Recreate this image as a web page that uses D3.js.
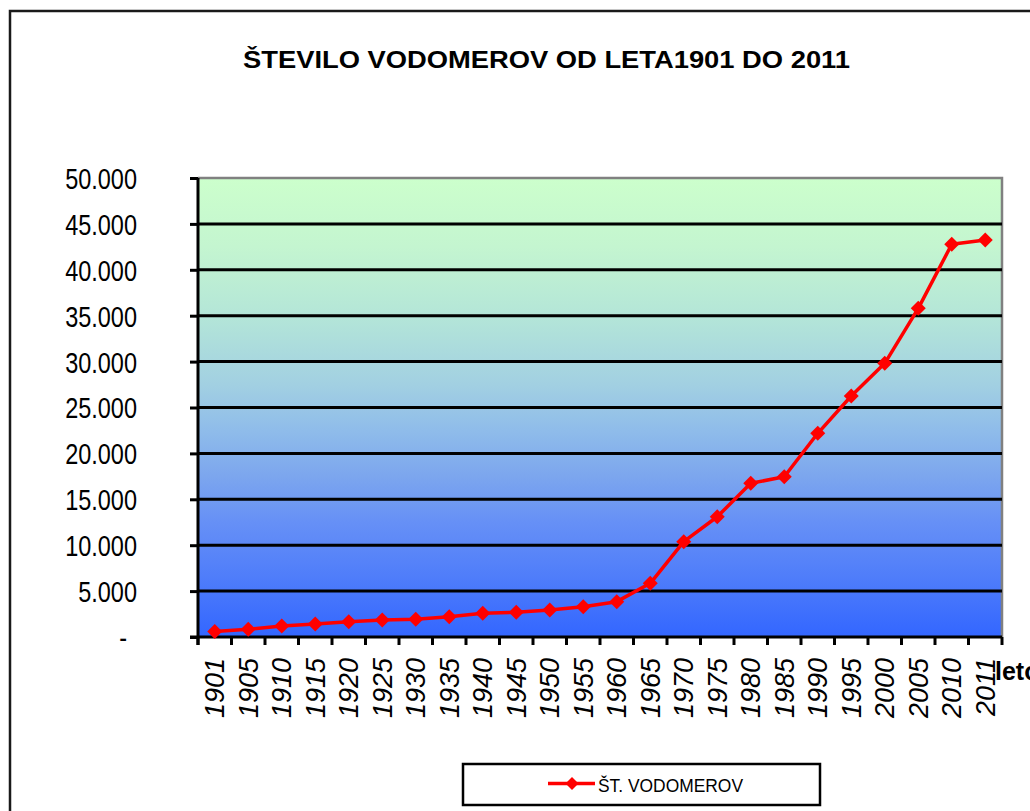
<!DOCTYPE html>
<html>
<head>
<meta charset="utf-8">
<script src="https://cdn.jsdelivr.net/npm/d3@7"></script>
<style>
  html, body { margin: 0; padding: 0; background: #fff; }
  svg { display: block; font-family: "Liberation Sans", Arial, sans-serif; }
</style>
</head>
<body>
<svg id="chart" width="1030" height="811"></svg>
<script>
// ---- data ----
const titleText = "ŠTEVILO VODOMEROV OD LETA1901 DO 2011";
const seriesName = "ŠT. VODOMEROV";
const xAxisTitle = "leto";
const years = ["1901","1905","1910","1915","1920","1925","1930","1935","1940","1945","1950","1955","1960",
               "1965","1970","1975","1980","1985","1990","1995","2000","2005","2010","2011"];
const meters = [600, 840, 1200, 1420, 1670, 1850, 1930, 2210, 2580, 2690, 2940, 3300, 3850,
                5850, 10380, 13100, 16740, 17460, 22190, 26250, 29810, 35800, 42780, 43250];
const yTicks = [0, 5000, 10000, 15000, 20000, 25000, 30000, 35000, 40000, 45000, 50000];

// ---- layout ----
const svg = d3.select("#chart");
const plot = { left: 198, right: 1002, top: 178, bottom: 637 };

const x = d3.scaleBand().domain(years).range([plot.left, plot.right]).padding(0);
const y = d3.scaleLinear().domain([0, 50000]).range([plot.bottom, plot.top]);

const loc = d3.formatLocale({ decimal: ",", thousands: ".", grouping: [3], currency: ["", ""] });
const fmt = loc.format(",.0f");

// outer chart border
svg.append("rect").attr("x", 10).attr("y", 11).attr("width", 1100).attr("height", 900)
  .attr("fill", "#fff").attr("stroke", "#1a1a1a").attr("stroke-width", 2.5);

// gradient
const defs = svg.append("defs");
const grad = defs.append("linearGradient").attr("id", "bg")
  .attr("x1", 0).attr("y1", 0).attr("x2", 0).attr("y2", 1);
[[0, "#CCFFCC"], [0.15, "#C4F5D0"], [0.3, "#B4E6D8"], [0.45, "#A2D0E2"], [0.55, "#8FBCEA"],
 [0.65, "#7CA6EE"], [0.75, "#6690F6"], [0.87, "#4F7DFA"], [1, "#3366FF"]]
  .forEach(([o, c]) => grad.append("stop").attr("offset", o).attr("stop-color", c));

svg.append("rect").attr("x", plot.left).attr("y", plot.top)
  .attr("width", plot.right - plot.left).attr("height", plot.bottom - plot.top)
  .attr("fill", "url(#bg)");

// plot border top/right (gray)
svg.append("path")
  .attr("d", `M${plot.left},${plot.top}H${plot.right}V${plot.bottom}`)
  .attr("fill", "none").attr("stroke", "#808080").attr("stroke-width", 2.5);

// gridlines
svg.append("g").selectAll("line").data(yTicks.filter(v => v > 0 && v < 50000)).join("line")
  .attr("x1", plot.left).attr("x2", plot.right)
  .attr("y1", d => y(d)).attr("y2", d => y(d))
  .attr("stroke", "#000").attr("stroke-width", 3);

// y axis
const yAxis = svg.append("g").attr("transform", `translate(${plot.left},0)`)
  .call(d3.axisLeft(y).tickValues(yTicks).tickSize(8).tickSizeOuter(0).tickFormat(d => d === 0 ? "-" : fmt(d)));
yAxis.select(".domain").remove();
yAxis.selectAll(".tick line").attr("stroke", "#000").attr("stroke-width", 3);
yAxis.selectAll(".tick text")
  .attr("font-family", "'Liberation Sans', Arial, sans-serif")
  .attr("font-size", 29).attr("fill", "#000")
  .attr("x", d => d === 0 ? -71 : -61).attr("dy", "0.36em")
  .each(function () { const w = this.getComputedTextLength(); d3.select(this).attr("textLength", w * 0.81).attr("lengthAdjust", "spacingAndGlyphs"); });

// x axis: line + ticks at band boundaries
svg.append("line").attr("x1", plot.left - 8).attr("x2", plot.right)
  .attr("y1", plot.bottom).attr("y2", plot.bottom).attr("stroke", "#000").attr("stroke-width", 3);
svg.append("line").attr("x1", plot.left).attr("x2", plot.left)
  .attr("y1", plot.top).attr("y2", plot.bottom + 8).attr("stroke", "#000").attr("stroke-width", 3);
const bounds = years.map(d => x(d)).concat([x(years[years.length - 1]) + x.bandwidth()]);
svg.append("g").selectAll("line").data(bounds).join("line")
  .attr("x1", d => d).attr("x2", d => d)
  .attr("y1", plot.bottom).attr("y2", plot.bottom + 8)
  .attr("stroke", "#000").attr("stroke-width", 3);

// x labels (rotated, italic)
const labelTop = 658;
svg.append("g").selectAll("text").data(years).join("text")
  .attr("x", d => x(d) + x.bandwidth() / 2).attr("y", labelTop)
  .attr("transform", d => `rotate(-90,${x(d) + x.bandwidth() / 2},${labelTop})`)
  .attr("dy", "0.36em").attr("text-anchor", "end")
  .attr("font-size", 27).attr("font-style", "italic").attr("fill", "#000")
  .text(d => d);

// x axis title
svg.append("text").attr("x", 995).attr("y", 680)
  .attr("font-size", 25).attr("font-weight", "bold").attr("fill", "#000")
  .text(xAxisTitle);

// line series
const line = d3.line().x((d, i) => x(years[i]) + x.bandwidth() / 2).y(d => y(d));
svg.append("path").datum(meters).attr("d", line)
  .attr("fill", "none").attr("stroke", "#FF0000").attr("stroke-width", 3.5).attr("stroke-linejoin", "round");

const diamond = r => `M0,${-r}L${r},0L0,${r}L${-r},0Z`;
svg.append("g").selectAll("path").data(meters).join("path")
  .attr("transform", (d, i) => `translate(${x(years[i]) + x.bandwidth() / 2},${y(d)})`)
  .attr("d", diamond(7.5)).attr("fill", "#FF0000");

// title
const title = svg.append("text").attr("x", 546.5).attr("y", 68)
  .attr("text-anchor", "middle").attr("font-size", 23).attr("font-weight", "bold").attr("fill", "#000")
  .text(titleText);
title.attr("textLength", 607).attr("lengthAdjust", "spacingAndGlyphs");

// legend
const lg = svg.append("g");
lg.append("rect").attr("x", 463).attr("y", 764).attr("width", 357).attr("height", 41)
  .attr("fill", "#fff").attr("stroke", "#000").attr("stroke-width", 2.5);
lg.append("line").attr("x1", 548).attr("x2", 595).attr("y1", 783.5).attr("y2", 783.5)
  .attr("stroke", "#FF0000").attr("stroke-width", 3.5);
lg.append("path").attr("transform", "translate(572,783.5)").attr("d", diamond(6.5)).attr("fill", "#FF0000");
lg.append("text").attr("x", 598).attr("y", 792).attr("font-size", 19).attr("fill", "#000")
  .attr("textLength", 145).attr("lengthAdjust", "spacingAndGlyphs")
  .text(seriesName);
</script>
</body>
</html>
